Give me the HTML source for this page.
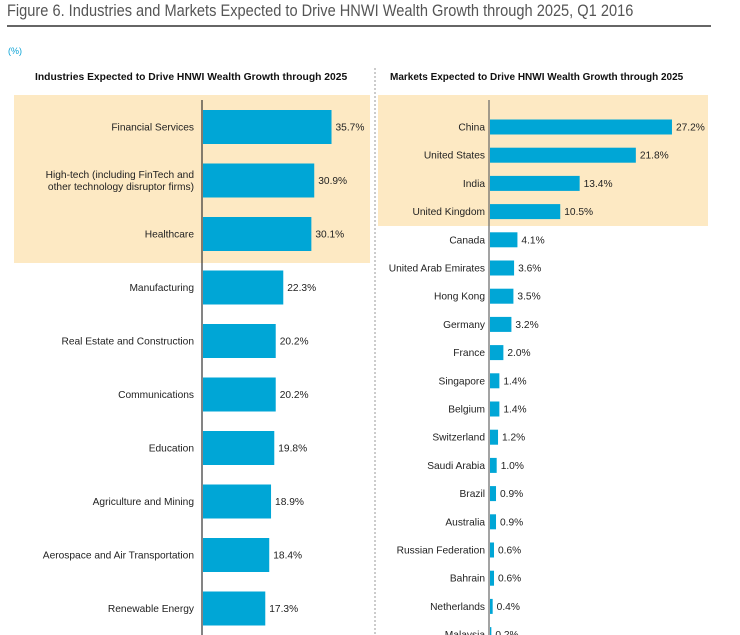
<!DOCTYPE html>
<html><head><meta charset="utf-8"><style>
body{margin:0;width:740px;height:635px;overflow:hidden;background:#fff;font-family:"Liberation Sans",sans-serif;position:relative}
.t{position:absolute;white-space:nowrap}
</style></head><body>
<div class="t" style="left:7px;top:2px;font-size:16.5px;color:#555;transform:scaleX(0.885);transform-origin:left top">Figure 6. Industries and Markets Expected to Drive HNWI Wealth Growth through 2025, Q1 2016</div>
<div style="position:absolute;left:7px;top:25px;width:704px;height:2px;background:#666"></div>
<div class="t" style="left:8px;top:46px;font-size:9px;color:#0aa3d6">(%)</div>
<div class="t" style="left:35px;top:72px;font-size:10.3px;font-weight:bold;color:#111">Industries Expected to Drive HNWI Wealth Growth through 2025</div>
<div class="t" style="left:390px;top:72px;font-size:10px;font-weight:bold;color:#111">Markets Expected to Drive HNWI Wealth Growth through 2025</div>
<svg id="c" width="740" height="635" style="position:absolute;left:0;top:0"></svg>
<script>
const industries=["Financial Services","High-tech (including FinTech and|other technology disruptor firms)","Healthcare","Manufacturing","Real Estate and Construction","Communications","Education","Agriculture and Mining","Aerospace and Air Transportation","Renewable Energy"];
const industryValues=[35.7,30.9,30.1,22.3,20.2,20.2,19.8,18.9,18.4,17.3];
const markets=["China","United States","India","United Kingdom","Canada","United Arab Emirates","Hong Kong","Germany","France","Singapore","Belgium","Switzerland","Saudi Arabia","Brazil","Australia","Russian Federation","Bahrain","Netherlands","Malaysia"];
const marketValues=[27.2,21.8,13.4,10.5,4.1,3.6,3.5,3.2,2.0,1.4,1.4,1.2,1.0,0.9,0.9,0.6,0.6,0.4,0.2];
const svg=document.getElementById('c');const NS='http://www.w3.org/2000/svg';
function mk(t,a){const e=document.createElementNS(NS,t);for(const k in a)e.setAttribute(k,a[k]);svg.appendChild(e);return e;}
let e;
e=mk('rect',{x:14,y:95,width:356,height:168,fill:'#fde9c3'});


e=mk('rect',{x:378,y:95,width:330,height:131,fill:'#fde9c3'});


e=mk('line',{x1:375,y1:68,x2:375,y2:635,stroke:'#999','stroke-dasharray':'2,2'});


const FS='10.2';
// left chart
const lx0=203,lk=3.6,ly=i=>127+i*53.5;
industries.forEach((n,i)=>{const v=industryValues[i],y=ly(i);
 const r=mk('rect',{x:lx0,y:y-17,width:v*lk,height:34,fill:'#00a6d6'});
 
 
 const parts=n.split('|');parts.forEach((p,j)=>{const t=mk('text',{x:194,y:y+3.5+(j-(parts.length-1)/2)*12,'text-anchor':'end','font-size':FS,fill:'#222'});t.textContent=p;
 
 });
 const t=mk('text',{x:lx0+v*lk+4,y:y+3.5,'font-size':FS,fill:'#222'});t.textContent=v.toFixed(1)+'%';
 
 });
e=mk('line',{x1:202,y1:100,x2:202,y2:635,stroke:'#333','stroke-width':1.2});


// right chart
const rx0=490,rk=6.69,ry=i=>127+i*28.2;
markets.forEach((n,i)=>{const v=marketValues[i],y=ry(i);
 const r=mk('rect',{x:rx0,y:y-7.5,width:v*rk,height:15,fill:'#00a6d6'});
 
 
 const t=mk('text',{x:485,y:y+3.5,'text-anchor':'end','font-size':FS,fill:'#222'});t.textContent=n;
 
 
 const u=mk('text',{x:rx0+v*rk+4,y:y+3.5,'font-size':FS,fill:'#222'});u.textContent=v.toFixed(1)+'%';
 
 });
e=mk('line',{x1:489,y1:100,x2:489,y2:635,stroke:'#666','stroke-width':1.2});


</script>
</body></html>
